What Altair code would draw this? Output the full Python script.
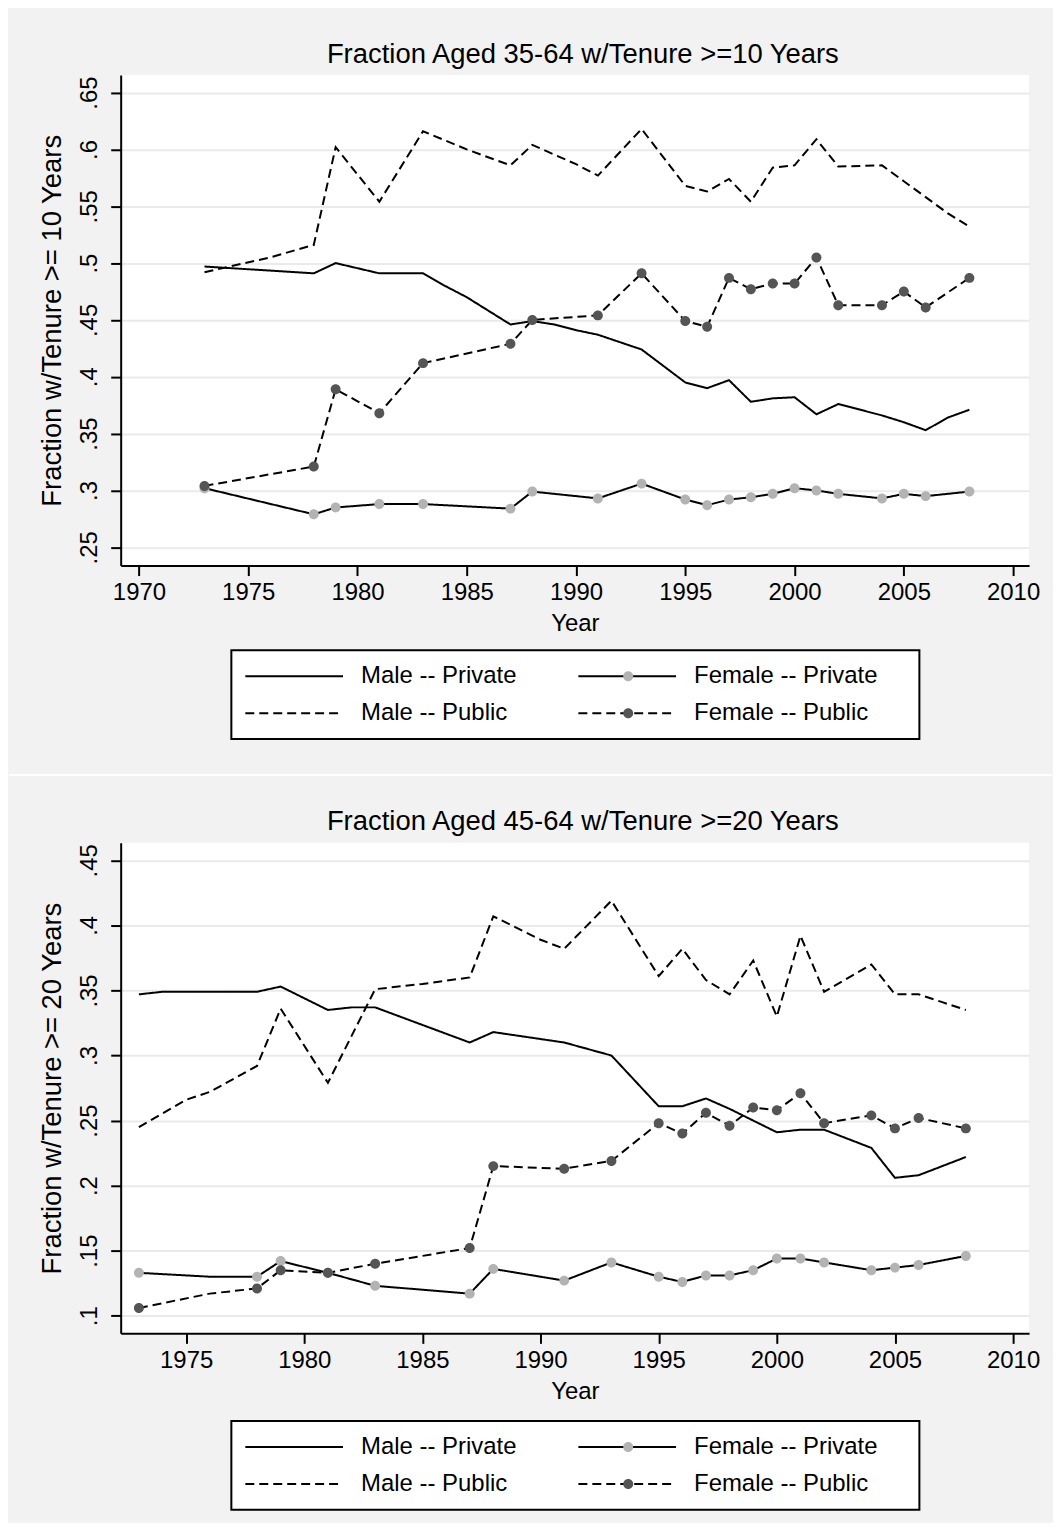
import altair as alt
import pandas as pd

FONT = "Liberation Sans"
SERIES = ["Male -- Private", "Female -- Private", "Male -- Public", "Female -- Public"]
DASHES = [[1, 0], [1, 0], [9, 5], [9, 5]]
MARKER_COLORS = ["transparent", "#b3b3b3", "transparent", "#555555"]

# ---------------- Panel 1: aged 35-64, tenure >= 10 years ----------------
p1_male_private_years = [1973, 1978, 1979, 1981, 1983, 1984, 1985, 1986, 1987, 1988, 1989, 1990, 1991,
                         1993, 1995, 1996, 1997, 1998, 1999, 2000, 2001, 2002, 2004, 2005, 2006, 2007, 2008]
p1_male_private = [0.497, 0.491, 0.500, 0.491, 0.491, 0.480, 0.470, 0.458, 0.446, 0.449, 0.446, 0.441, 0.437,
                   0.424, 0.395, 0.390, 0.397, 0.378, 0.381, 0.382, 0.367, 0.376, 0.366, 0.360, 0.353, 0.364, 0.371]

p1_male_public_years = [1973, 1976, 1978, 1979, 1981, 1983, 1985, 1987, 1988, 1990, 1991, 1993, 1995,
                        1996, 1997, 1998, 1999, 2000, 2001, 2002, 2004, 2005, 2006, 2007, 2008]
p1_male_public = [0.492, 0.505, 0.516, 0.602, 0.554, 0.616, 0.600, 0.586, 0.604, 0.587, 0.577, 0.618, 0.568,
                  0.563, 0.574, 0.554, 0.584, 0.586, 0.609, 0.585, 0.586, 0.572, 0.558, 0.544, 0.532]

p1_female_years = [1973, 1978, 1979, 1981, 1983, 1987, 1988, 1991, 1993, 1995, 1996, 1997, 1998,
                   1999, 2000, 2001, 2002, 2004, 2005, 2006, 2008]
p1_female_private = [0.302, 0.279, 0.285, 0.288, 0.288, 0.284, 0.299, 0.293, 0.306, 0.292, 0.287, 0.292, 0.294,
                     0.297, 0.302, 0.300, 0.297, 0.293, 0.297, 0.295, 0.299]
p1_female_public = [0.304, 0.321, 0.389, 0.368, 0.412, 0.429, 0.450, 0.454, 0.491, 0.449, 0.444, 0.487, 0.477,
                    0.482, 0.482, 0.505, 0.463, 0.463, 0.475, 0.461, 0.487]
p1_female_marked = [1] * len(p1_female_years)

# ---------------- Panel 2: aged 45-64, tenure >= 20 years ----------------
p2_male_private_years = [1973, 1974, 1978, 1979, 1981, 1982, 1983, 1987, 1988, 1991, 1993, 1995, 1996,
                         1997, 1998, 2000, 2001, 2002, 2004, 2005, 2006, 2008]
p2_male_private = [0.347, 0.349, 0.349, 0.353, 0.335, 0.337, 0.337, 0.310, 0.318, 0.310, 0.300, 0.261, 0.261,
                   0.267, 0.259, 0.241, 0.243, 0.243, 0.229, 0.206, 0.208, 0.222]

p2_male_public_years = [1973, 1975, 1976, 1978, 1979, 1981, 1983, 1985, 1987, 1988, 1990, 1991, 1993,
                        1995, 1996, 1997, 1998, 1999, 2000, 2001, 2002, 2004, 2005, 2006, 2007, 2008]
p2_male_public = [0.245, 0.266, 0.272, 0.292, 0.336, 0.279, 0.351, 0.355, 0.360, 0.407, 0.389, 0.382, 0.419,
                  0.361, 0.382, 0.358, 0.347, 0.373, 0.330, 0.392, 0.349, 0.370, 0.347, 0.347, 0.341, 0.335]

p2_female_years = [1973, 1976, 1978, 1979, 1981, 1983, 1987, 1988, 1991, 1993, 1995, 1996, 1997,
                   1998, 1999, 2000, 2001, 2002, 2004, 2005, 2006, 2008]
p2_female_private = [0.133, 0.130, 0.130, 0.142, 0.133, 0.123, 0.117, 0.136, 0.127, 0.141, 0.130, 0.126, 0.131,
                     0.131, 0.135, 0.144, 0.144, 0.141, 0.135, 0.137, 0.139, 0.146]
p2_female_public = [0.106, 0.117, 0.121, 0.135, 0.133, 0.140, 0.152, 0.215, 0.213, 0.219, 0.248, 0.240, 0.256,
                    0.246, 0.260, 0.258, 0.271, 0.248, 0.254, 0.244, 0.252, 0.244]
p2_female_marked = [1, 0, 1, 1, 1, 1, 1, 1, 1, 1, 1, 1, 1, 1, 1, 1, 1, 1, 1, 1, 1, 1]

# axis tick values
p1_xticks = [1970, 1975, 1980, 1985, 1990, 1995, 2000, 2005, 2010]
p1_yticks = [0.25, 0.3, 0.35, 0.4, 0.45, 0.5, 0.55, 0.6, 0.65]
p2_xticks = [1975, 1980, 1985, 1990, 1995, 2000, 2005, 2010]
p2_yticks = [0.1, 0.15, 0.2, 0.25, 0.3, 0.35, 0.4, 0.45]


def build_frame(groups):
    rows = []
    for name, years, vals, marks in groups:
        for i, (yr, v) in enumerate(zip(years, vals)):
            vertex_only = 0
            if marks is not None and marks[i] == 0:
                vertex_only = 1
            rows.append({"year": yr, "value": v, "series": name, "vertex_only": vertex_only})
    return pd.DataFrame(rows)


df1 = build_frame([
    ("Male -- Private", p1_male_private_years, p1_male_private, None),
    ("Female -- Private", p1_female_years, p1_female_private, p1_female_marked),
    ("Male -- Public", p1_male_public_years, p1_male_public, None),
    ("Female -- Public", p1_female_years, p1_female_public, p1_female_marked),
])
df2 = build_frame([
    ("Male -- Private", p2_male_private_years, p2_male_private, None),
    ("Female -- Private", p2_female_years, p2_female_private, p2_female_marked),
    ("Male -- Public", p2_male_public_years, p2_male_public, None),
    ("Female -- Public", p2_female_years, p2_female_public, p2_female_marked),
])

W, H = 911, 492
# legend key: a long stroke; the zero-length pieces only size the legend cell
LINE_SYMBOL = "M-5,0H5M28,0h0"
MARKER_PATH = ("M-5,-1.22h0M28,1.22h0"
               "M-0.51,0A0.51,0.51,0,1,1,0.51,0A0.51,0.51,0,1,1,-0.51,0Z")
MARKER_SIZE = 384


def legend_common(legend_x, legend_y):
    return dict(
        title=None, orient="none", legendX=legend_x, legendY=legend_y, columns=2, direction="horizontal",
        symbolSize=MARKER_SIZE, symbolOffset=37, labelOffset=55,
        labelFontSize=24, labelFont=FONT, labelColor="black",
        rowPadding=13, columnPadding=2, padding=14, labelLimit=0,
    )


def panel(df, title, ytitle, xdom, ydom, xticks, yticks, separator, legend_y):
    x = alt.X("year:Q", scale=alt.Scale(domain=xdom, nice=False, zero=False),
              axis=alt.Axis(values=xticks, format="d", title="Year", grid=False,
                            labelFlush=False, labelOverlap=False, labelBaseline="alphabetic",
                            labelPadding=24, titleY=65, titleBaseline="alphabetic"))
    y = alt.Y("value:Q", scale=alt.Scale(domain=ydom, nice=False, zero=False),
              axis=alt.Axis(values=yticks, title=ytitle, grid=True,
                            labelExpr="replace(format(datum.value, '.2~f'), '0.', '.')",
                            labelAngle=270, labelAlign="center", labelBaseline="alphabetic",
                            labelPadding=14, labelFlush=False, labelOverlap=False,
                            titleAngle=270, titleX=-60, titleBaseline="alphabetic", titleAlign="center",
                            titleFontSize=27.5))
    lines = alt.Chart(df).mark_line(color="black", strokeWidth=2).encode(
        x=x, y=y,
        strokeDash=alt.StrokeDash("series:N", scale=alt.Scale(domain=SERIES, range=DASHES),
                                  legend=alt.Legend(symbolType=LINE_SYMBOL, symbolStrokeWidth=2,
                                                    symbolStrokeColor="black", strokeColor="black",
                                                    fillColor="white", zindex=1,
                                                    **legend_common(111, legend_y))),
    )
    pts = alt.Chart(df).transform_filter("datum.vertex_only == 0").mark_point(
        filled=True, size=MARKER_SIZE, shape=MARKER_PATH, opacity=1, strokeWidth=0, clip=True
    ).encode(
        x=x, y=y,
        color=alt.Color("series:N", sort=SERIES, scale=alt.Scale(range=MARKER_COLORS),
                        legend=alt.Legend(symbolType=MARKER_PATH, symbolStrokeWidth=0,
                                          symbolStrokeColor="transparent", labelExpr="''",
                                          zindex=2, **legend_common(120, legend_y))),
    )
    layers = [lines, pts]
    if separator:
        sep = alt.Chart(pd.DataFrame({"k": [0]})).mark_rule(color="white", strokeWidth=2).encode(
            x=alt.value(-112), x2=alt.value(934), y=alt.value(702))
        layers.append(sep)
    return alt.layer(*layers).properties(
        width=W, height=H,
        title=alt.TitleParams(title, fontSize=27.5, font=FONT, fontWeight="normal", color="black",
                              anchor="middle", frame="group", baseline="alphabetic", offset=12,
                              dy=27, dx=8),
    )


top = panel(df1, "Fraction Aged 35-64 w/Tenure >=10 Years", "Fraction w/Tenure >= 10 Years",
            [1969.164, 2010.73], [0.2339, 0.6655], p1_xticks, p1_yticks, True, 577)
bottom = panel(df2, "Fraction Aged 45-64 w/Tenure >=20 Years", "Fraction w/Tenure >= 20 Years",
               [1972.229, 2010.675], [0.08646, 0.4635], p2_xticks, p2_yticks, False, 580)

chart = alt.vconcat(top, bottom, spacing=278, bounds="flush").resolve_scale(
    x="independent", y="independent", strokeDash="independent", color="independent"
).resolve_legend(
    strokeDash="independent", color="independent"
).resolve_axis(
    x="independent", y="independent"
).properties(
    padding={"left": 0, "top": 30, "right": 0, "bottom": 10},
    background="#f2f2f2",
).configure_view(
    stroke=None, fill="white"
).configure_axis(
    domainColor="black", domainWidth=2, tickColor="black", tickWidth=2, tickSize=10,
    labelFont=FONT, labelFontSize=24, labelColor="black",
    titleFont=FONT, titleFontSize=24, titleColor="black", titleFontWeight="normal",
    gridColor="#eaeaea", gridWidth=2,
).configure_legend(
    strokeWidth=2,
)

chart.save("out.html", embed_options={"renderer": "svg", "actions": False})
